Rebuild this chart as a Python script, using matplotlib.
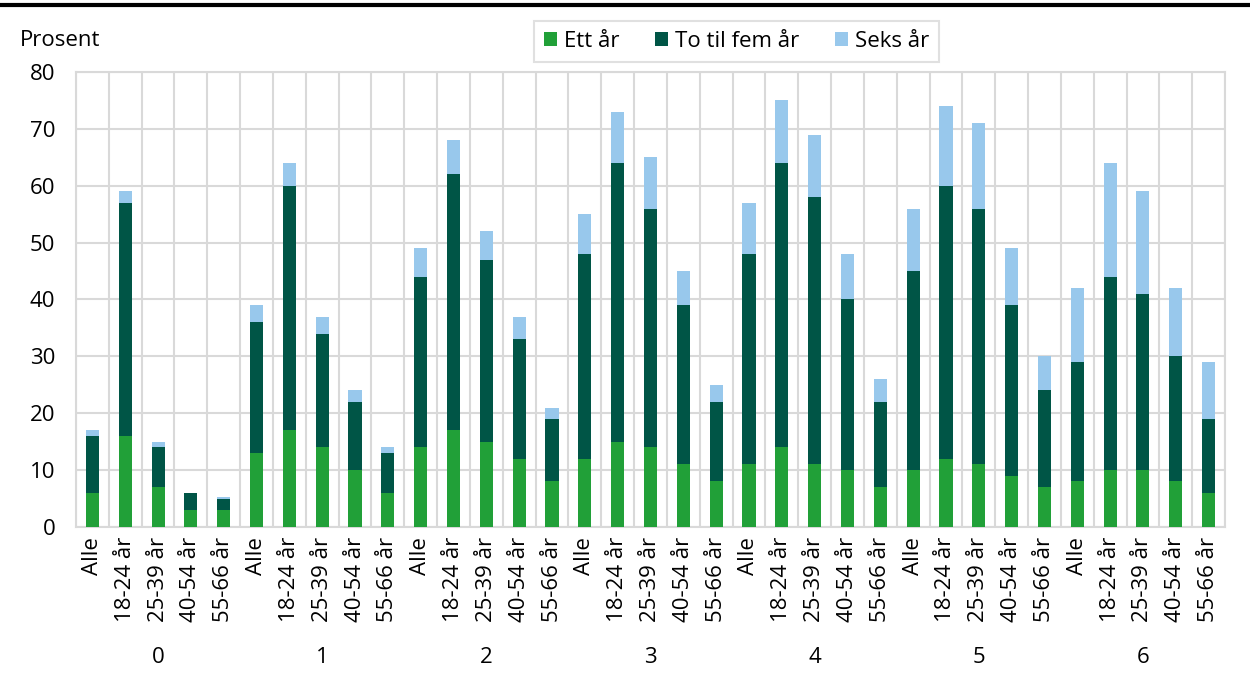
import numpy as np
import matplotlib
matplotlib.use('Agg')
import matplotlib.pyplot as plt
from matplotlib.lines import Line2D

plt.rcParams['font.family'] = ['Open Sans', 'DejaVu Sans']

groups = ['0', '1', '2', '3', '4', '5', '6']
ages = ['Alle', '18-24 år', '25-39 år', '40-54 år', '55-66 år']
series_names = ['Ett år', 'To til fem år', 'Seks år']
colors = ['#21a038', '#005546', '#98c8ec']

# one row per group, five age categories each
ett_aar = [
    [6, 16, 7, 3, 3],
    [13, 17, 14, 10, 6],
    [14, 17, 15, 12, 8],
    [12, 15, 14, 11, 8],
    [11, 14, 11, 10, 7],
    [10, 12, 11, 9, 7],
    [8, 10, 10, 8, 6],
]
to_til_fem = [
    [10, 41, 7, 3, 2],
    [23, 43, 20, 12, 7],
    [30, 45, 32, 21, 11],
    [36, 49, 42, 28, 14],
    [37, 50, 47, 30, 15],
    [35, 48, 45, 30, 17],
    [21, 34, 31, 22, 13],
]
seks_aar = [
    [1, 2, 1, 0, 0.2],
    [3, 4, 3, 2, 1],
    [5, 6, 5, 4, 2],
    [7, 9, 9, 6, 3],
    [9, 11, 11, 8, 4],
    [11, 14, 15, 10, 6],
    [13, 20, 18, 12, 10],
]

s1 = np.array(ett_aar).ravel()
s2 = np.array(to_til_fem).ravel()
s3 = np.array(seks_aar).ravel()
n = len(s1)
x = np.arange(n)

fs = 16

fig = plt.figure(figsize=(12.5, 6.75), dpi=100)
ax = fig.add_axes([0.0608, 0.2193, 0.9192, 0.674])

w = 0.4
ax.bar(x, s1, w, color=colors[0], label=series_names[0], zorder=3)
ax.bar(x, s2, w, bottom=s1, color=colors[1], label=series_names[1], zorder=3)
ax.bar(x, s3, w, bottom=s1 + s2, color=colors[2], label=series_names[2], zorder=3)

ax.set_xlim(-0.5, n - 0.5)
ax.set_ylim(0, 80)
ax.set_yticks(range(0, 81, 10))
ax.set_xticks(x)
ax.set_xticklabels(ages * len(groups), rotation=90, va='top')
ax.set_xticks(np.arange(-0.5, n, 1), minor=True)
ax.tick_params(axis='both', which='both', length=0, labelsize=fs, colors='black')
ax.tick_params(axis='x', pad=7)
ax.tick_params(axis='y', pad=15)

ax.grid(axis='y', which='major', color='#d9d9d9', lw=1.5, zorder=0)
ax.grid(axis='x', which='minor', color='#d9d9d9', lw=1.5, zorder=0)
ax.grid(axis='x', which='major', visible=False)
for sp in ax.spines.values():
    sp.set_color('#d9d9d9')
    sp.set_linewidth(1.5)

for gi, g in enumerate(groups):
    ax.text(gi * 5 + 2, -23.0, g, ha='center', va='center', fontsize=fs)

fig.text(0.016, 0.94, 'Prosent', ha='left', va='center', fontsize=fs)
fig.add_artist(Line2D([0, 1], [0.992, 0.992], color='black', lw=3, transform=fig.transFigure))

leg = fig.legend(loc='center', bbox_to_anchor=(0.589, 0.939), ncol=3, fontsize=fs,
                 frameon=True, fancybox=False, edgecolor='#d9d9d9',
                 handlelength=0.6, handleheight=0.6, handletextpad=0.3, columnspacing=1.6,
                 borderpad=0.45, borderaxespad=0)
leg.get_frame().set_linewidth(1.5)

fig.savefig('out.png', dpi=100)
